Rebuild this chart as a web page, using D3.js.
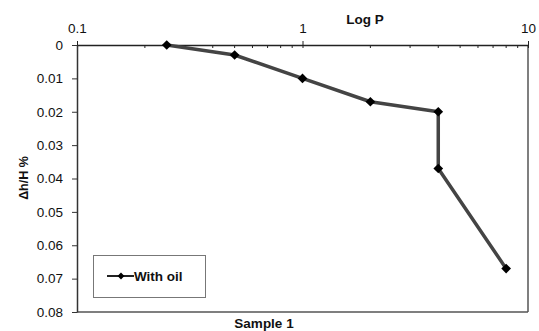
<!DOCTYPE html>
<html>
<head>
<meta charset="utf-8">
<script src="https://cdn.jsdelivr.net/npm/d3@7"></script>
<style>
  body { margin: 0; background: #fff; }
  svg { font-family: "Liberation Sans", Arial, sans-serif; }
</style>
</head>
<body>
<svg width="539" height="331"></svg>
<script>
// values
var pressure = [0.25, 0.5, 1, 2, 4, 4, 8];
var strain   = [0, 0.003, 0.010, 0.017, 0.020, 0.037, 0.067];
var xTicks = [0.1, 1, 10];
var yTicks = [0, 0.01, 0.02, 0.03, 0.04, 0.05, 0.06, 0.07, 0.08];
var seriesName = "With oil";

var svg = d3.select("svg"),
    plotLeft = 77, plotRight = 528, plotTop = 45, plotBottom = 312;

var x = d3.scaleLog().domain([0.1, 10]).range([plotLeft, plotRight]);
var y = d3.scaleLinear().domain([0, 0.08]).range([plotTop, plotBottom]);

var data = pressure.map(function(p, i) { return { p: p, s: strain[i] }; });

// plot frame (right + bottom in gray)
svg.append("line")
    .attr("x1", plotRight).attr("x2", plotRight).attr("y1", plotTop).attr("y2", plotBottom)
    .attr("stroke", "#555").attr("stroke-width", 1.5);
svg.append("line")
    .attr("x1", plotLeft).attr("x2", plotRight).attr("y1", plotBottom).attr("y2", plotBottom)
    .attr("stroke", "#555").attr("stroke-width", 1.5);

// top log axis
var minor = [];
[0.1, 1].forEach(function(d) {
  for (var k = 2; k <= 9; k++) minor.push(d * k);
});

var xAxis = svg.append("g")
    .attr("transform", "translate(0," + plotTop + ")")
    .call(d3.axisTop(x).tickValues(xTicks).tickFormat(d3.format("")).tickSizeInner(4).tickSizeOuter(0));
xAxis.select(".domain").attr("stroke", "#222").attr("stroke-width", 1.5);
xAxis.selectAll(".tick line").attr("y1", 3).attr("y2", -4).attr("stroke", "#222");
xAxis.selectAll(".tick text")
    .attr("y", -12)
    .attr("font-size", 13.5)
    .attr("fill", "#111")
    .attr("font-family", "Liberation Sans, Arial, sans-serif");

svg.append("g").selectAll("line")
    .data(minor)
    .enter().append("line")
    .attr("x1", function(d) { return x(d); })
    .attr("x2", function(d) { return x(d); })
    .attr("y1", plotTop).attr("y2", plotTop + 3)
    .attr("stroke", "#222");

// left axis
var yAxis = svg.append("g")
    .attr("transform", "translate(" + plotLeft + ",0)")
    .call(d3.axisLeft(y).tickValues(yTicks).tickFormat(function(d) { return d3.format("")(+d.toFixed(2)); })
          .tickSizeInner(5).tickSizeOuter(0).tickPadding(9));
yAxis.select(".domain").attr("stroke", "#333").attr("stroke-width", 1.5);
yAxis.selectAll(".tick line").attr("stroke", "#333");
yAxis.selectAll(".tick text")
    .attr("font-size", 13.5)
    .attr("fill", "#111")
    .attr("font-family", "Liberation Sans, Arial, sans-serif");

// titles
svg.append("text")
    .attr("x", 365).attr("y", 24)
    .attr("text-anchor", "middle")
    .style("font", "bold 13.5px 'Liberation Sans', Arial")
    .attr("fill", "#111")
    .text("Log P");

svg.append("text")
    .attr("x", 264).attr("y", 328)
    .attr("text-anchor", "middle")
    .style("font", "bold 13.5px 'Liberation Sans', Arial")
    .attr("fill", "#111")
    .text("Sample 1");

svg.append("text")
    .attr("transform", "translate(28,178) rotate(-90)")
    .attr("text-anchor", "middle")
    .style("font", "bold 12.5px 'Liberation Sans', Arial")
    .attr("fill", "#111")
    .text("Δh/H %");

// series
var line = d3.line()
    .x(function(d) { return x(d.p); })
    .y(function(d) { return y(d.s); });

svg.append("path")
    .datum(data)
    .attr("d", line)
    .attr("fill", "none")
    .attr("stroke", "#444")
    .attr("stroke-width", 3.5)
    .attr("stroke-linejoin", "round");

var diamond = d3.symbol().type(d3.symbolDiamond2).size(60);

svg.append("g").selectAll("path")
    .data(data)
    .enter().append("path")
    .attr("d", diamond)
    .attr("transform", function(d) { return "translate(" + x(d.p) + "," + y(d.s) + ")"; })
    .attr("fill", "#000");

// legend
var legend = svg.append("g");
legend.append("rect")
    .attr("x", 93.5).attr("y", 255.5)
    .attr("width", 112).attr("height", 42)
    .attr("fill", "#fff")
    .attr("stroke", "#777").attr("stroke-width", 1);
legend.append("line")
    .attr("x1", 107).attr("x2", 134).attr("y1", 276).attr("y2", 276)
    .attr("stroke", "#222").attr("stroke-width", 2);
legend.append("path")
    .attr("d", d3.symbol().type(d3.symbolDiamond2).size(30))
    .attr("transform", "translate(121,276)")
    .attr("fill", "#000");
legend.append("text")
    .attr("x", 134).attr("y", 281)
    .style("font", "bold 13.5px 'Liberation Sans', Arial")
    .attr("fill", "#111")
    .text(seriesName);
</script>
</body>
</html>
